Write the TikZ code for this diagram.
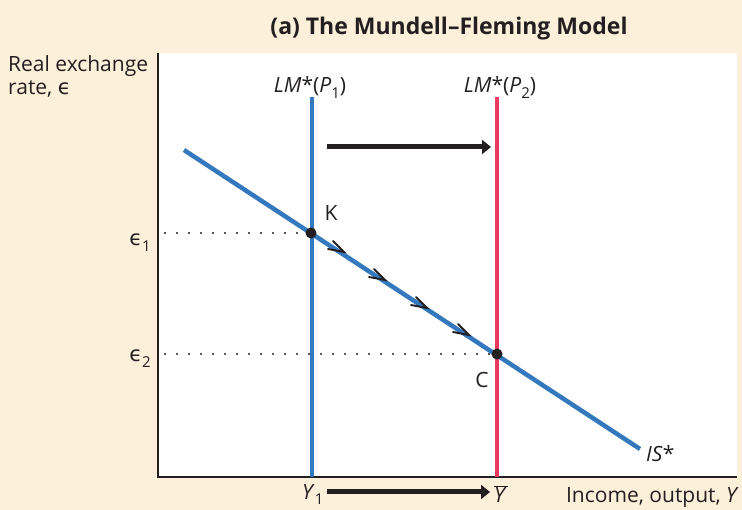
\documentclass[tikz,border=0pt]{standalone}
\usepackage{fontspec}
\setmainfont{Open Sans}
\newfontfamily\dejavu{DejaVu Sans}
\usetikzlibrary{arrows.meta}
\definecolor{cream}{HTML}{FDF0DA}
\definecolor{lmblue}{HTML}{3478BE}
\definecolor{lmred}{HTML}{E8395F}
\definecolor{ink}{HTML}{231F20}
\newcommand{\lunate}{{\dejavu ϵ}}
\newcommand{\sbs}[1]{\raisebox{-0.28em}{\fontsize{15}{16}\selectfont\upshape #1}}
\newcommand{\ybar}{\ensuremath{\overline{\mbox{\textit{Y}\kern1pt}}}}
\tikzset{
  lbl/.style={font=\fontsize{21}{23}\selectfont, text=ink, inner sep=0pt},
  curve/.style={line width=4.5pt},
  shiftarrow/.style={line width=5pt, ink, -{Triangle[length=9pt,width=14pt]}},
  guide/.style={ink, line width=2.2pt, dash pattern=on 0pt off 12pt, line cap=round},
  eqdot/.style={circle, fill=ink, inner sep=0pt, minimum size=11pt},
  chevron/.style={ink, line width=1.9pt, line cap=round},
}
\begin{document}
\begin{tikzpicture}[x=1pt,y=-1pt]
\useasboundingbox (0,0) rectangle (742,510);
\fill[cream] (0,0) rectangle (742,510);
\fill[white] (158,53) rectangle (737,477);
\draw[ink, line width=1.3pt] (158,53) -- (158,477) -- (737,477);
% coordinates
\coordinate (Ktop) at (312,97);
\coordinate (Kbot) at (312,477);
\coordinate (Ctop) at (497,97);
\coordinate (Cbot) at (497,477);
\coordinate (ISa) at (184,150);
\coordinate (ISb) at (640,449);
\coordinate (e1) at (165,233);
\coordinate (e2) at (165,354);
% LM curves
\draw[curve, lmblue] (Ktop) -- (Kbot);
\draw[curve, lmred] (Ctop) -- (Cbot);
% IS curve
\draw[curve, lmblue] (ISa) -- (ISb);
% equilibria and guide lines
\node[eqdot] (K) at (311,233) {};
\node[eqdot] (C) at (497,354) {};
\draw[guide] (e1) -- (K.west);
\draw[guide] (e2) -- (C.west);
% chevrons along IS
\foreach \px/\py in {344/252, 385/280, 427/308, 469/335}{
  \draw[chevron] (\px,\py) ++(-11,-11) -- (\px,\py) -- ++(-16,-3);
}
% shift arrows
\coordinate (ta) at (327,147);
\coordinate (tb) at (491,147);
\draw[shiftarrow] (ta) -- (tb);
\coordinate (ba) at (327,492);
\coordinate (bb) at (490,492);
\draw[shiftarrow] (ba) -- (bb);
% labels
\node[lbl, font=\fontsize{23}{25}\selectfont\bfseries, anchor=base] (title) at (449,35) {(a) The Mundell--Fleming Model};
\node[lbl, anchor=base west] (ylab1) at (8,72) {Real exchange};
\node[lbl, anchor=base west] (ylab2) at (8,95) {rate, \lunate};
\node[lbl, anchor=base] (lm1) at (310,93) {\textit{LM}*(\textit{P}\sbs{1})};
\node[lbl, anchor=base] (lm2) at (500,93) {\textit{LM}*(\textit{P}\sbs{2})};
\node[lbl, anchor=base] (eps1) at (140,246) {\lunate\sbs{1}};
\node[lbl, anchor=base] (eps2) at (140,362) {\lunate\sbs{2}};
\node[lbl, anchor=base] (Klab) at (331,221) {K};
\node[lbl, anchor=base] (Clab) at (482,388) {C};
\node[lbl, anchor=base west] (islab) at (646,462) {\textit{IS}*};
\node[lbl, anchor=base west] (y1) at (302,500) {\textit{Y}\raisebox{-0.22em}{\fontsize{15}{16}\selectfont 1}};
\node[lbl, anchor=base west] (ybar) at (494,503) {\ybar};
\node[lbl, anchor=base east] (xlab) at (739,503) {Income, output, \textit{Y}};
\end{tikzpicture}
\end{document}
